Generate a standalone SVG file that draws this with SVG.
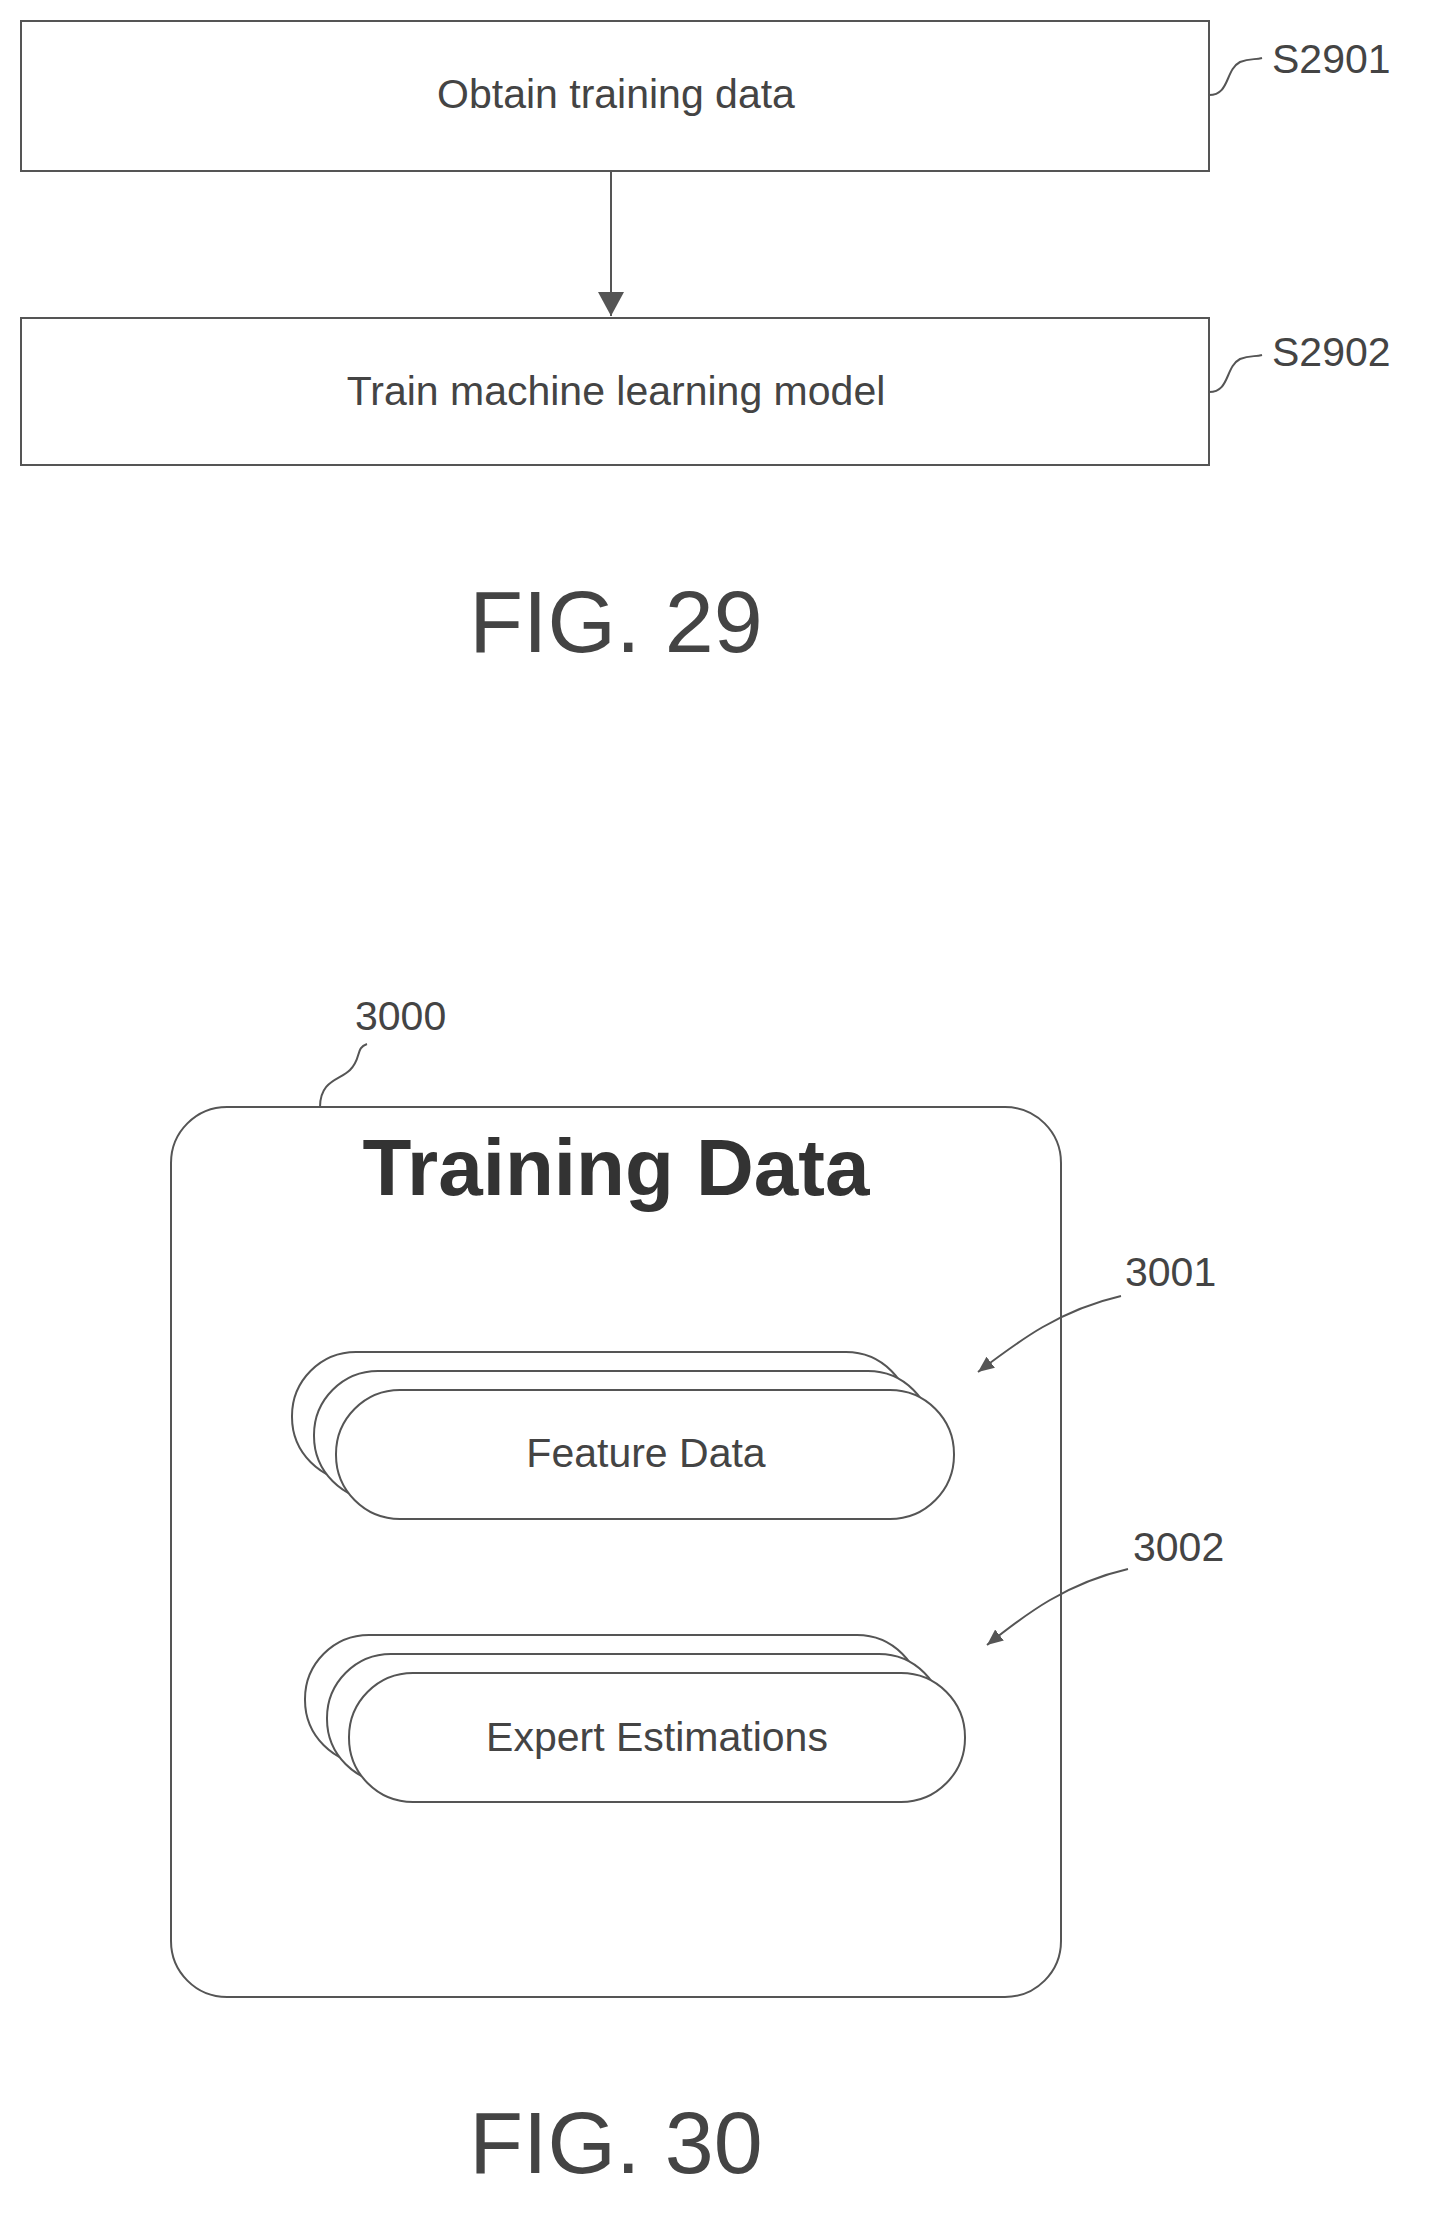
<svg xmlns="http://www.w3.org/2000/svg" width="1435" height="2217" viewBox="0 0 1435 2217">
<style>
.b{fill:#fff;stroke:#555;stroke-width:2}
.l{fill:none;stroke:#555;stroke-width:2}
.t{font-family:"Liberation Sans",Arial,sans-serif;fill:#444;font-size:41px;text-anchor:middle}
.r{font-family:"Liberation Sans",Arial,sans-serif;fill:#444;font-size:41px}
.f{font-family:"Liberation Sans",Arial,sans-serif;fill:#444;font-size:88px;text-anchor:middle}
</style>
<defs>
<marker id="a" markerWidth="16" markerHeight="14" refX="16" refY="7" orient="auto" markerUnits="userSpaceOnUse"><path d="M0,0 L16,7 L0,14 z" fill="#555"/></marker>
<marker id="big" markerWidth="24" markerHeight="26" refX="24" refY="13" orient="auto" markerUnits="userSpaceOnUse"><path d="M0,0 L24,13 L0,26 z" fill="#555"/></marker>
</defs>
<g id="S2901"><rect class="b" x="21" y="21" width="1188" height="150"/><text class="t" x="616" y="108">Obtain training data</text><text class="r" x="1272" y="73">S2901</text></g>
<g id="S2902"><rect class="b" x="21" y="318" width="1188" height="147"/><text class="t" x="616" y="405">Train machine learning model</text><text class="r" x="1272" y="366">S2902</text></g>
<text class="f" x="616" y="652">FIG. 29</text>
<g id="n3000"><rect class="b" x="171" y="1107" width="890" height="890" rx="56"/><text class="r" x="355" y="1030">3000</text><text x="616" y="1195" font-family="Liberation Sans,Arial,sans-serif" font-weight="bold" font-size="80" fill="#333" text-anchor="middle">Training Data</text></g>
<g id="n3001">
<rect class="b" x="292" y="1352" width="618" height="129" rx="64"/>
<rect class="b" x="314" y="1371" width="618" height="129" rx="64"/>
<rect class="b" x="336" y="1390" width="618" height="129" rx="64"/>
<text class="t" x="646" y="1467">Feature Data</text><text class="r" x="1125" y="1286">3001</text></g>
<g id="n3002">
<rect class="b" x="305" y="1635" width="616" height="129" rx="64"/>
<rect class="b" x="327" y="1654" width="616" height="129" rx="64"/>
<rect class="b" x="349" y="1673" width="616" height="129" rx="64"/>
<text class="t" x="657" y="1751">Expert Estimations</text><text class="r" x="1133" y="1561">3002</text></g>
<text class="f" x="616" y="2173">FIG. 30</text>
<g id="connectors">
<line class="l" x1="611" y1="171" x2="611" y2="316" marker-end="url(#big)"/>
<path class="l" d="M1209,95 C1230,95 1225,70 1240,62 C1250,58 1255,60 1262,58"/>
<path class="l" d="M1209,392 C1230,392 1225,367 1240,359 C1250,355 1255,357 1262,355"/>
<path class="l" d="M320,1107 C320,1080 340,1080 350,1070 C362,1058 355,1048 367,1044"/>
<path class="l" d="M1121,1296 C1060,1310 1020,1340 978,1372" marker-end="url(#a)"/>
<path class="l" d="M1128,1569 C1067,1583 1027,1613 987,1645" marker-end="url(#a)"/>
</g>
</svg>
